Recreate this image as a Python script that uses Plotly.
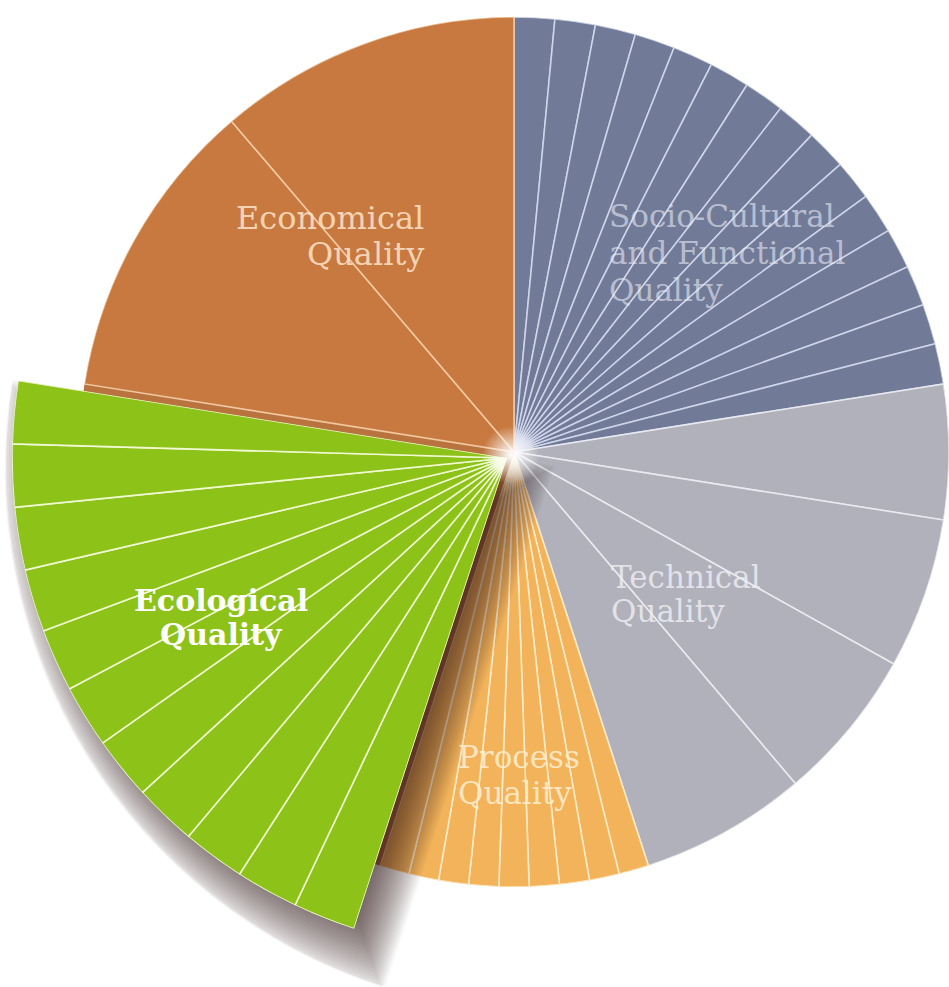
import math
import plotly.graph_objects as go

W, H = 949, 987

# Score categories, their share of the total (%) and the relative weights of
# the sub-criteria each category is divided into.
categories = ["Socio-Cultural and Functional Quality", "Technical Quality",
              "Process Quality", "Ecological Quality", "Economical Quality"]
category_share = [22.5, 22.5, 10.0, 22.5, 22.5]
socio_weights = [1, 1, 1, 1, 1, 1, 1, 1, 1, 1, 1, 1, 1, 1, 1]
technical_weights = [5.0, 5.6, 5.7, 6.2]
process_weights = [1, 1, 1, 1, 1, 1, 1, 1, 1]
ecological_weights = [1, 1, 1, 1, 1, 1, 1, 1, 1, 1, 1]
economical_weights = [1, 1]

label_lines = [["Socio-Cultural", "and Functional", "Quality"],
               ["Technical", "Quality"],
               ["Process", "Quality"],
               ["Ecological", "Quality"],
               ["Economical", "Quality"]]

# ---- styling -------------------------------------------------------------
fill_colors = ["#717a97", "#b0b1ba", "#f3b35b", "#8dc219", "#c77940"]
divider_colors = ["rgba(214,220,240,0.85)", "rgba(236,237,243,0.9)",
                  "rgba(255,238,205,0.9)", "rgba(242,250,214,0.95)",
                  "rgba(244,205,165,0.9)"]
backing_color = "#b9733f"
label_colors = ["rgba(232,235,245,0.62)", "rgba(240,240,246,0.78)",
                "rgba(255,240,210,0.85)", "#ffffff", "rgba(250,224,196,0.9)"]
label_font = "DejaVu Serif"
label_sizes = [31, 31, 31, 30, 32]
# label anchor (pixels): x, first line centre y, line step, anchor side
label_pos = [(607, 216, 37, "left"), (609, 577, 34, "left"),
             (456, 757, 36, "left"), (221, 600, 34, "center"),
             (426, 218, 36, "right")]

main_center, main_radius = (514, 452), 435          # pixels
eco_center, eco_radius = (507, 458), 495            # enlarged ecological fan
glow_center, glow_radius = (511, 455), 30
ECO = categories.index("Ecological Quality")
PROC = categories.index("Process Quality")

# ---- slice geometry from the data -----------------------------------------
weights = [socio_weights, technical_weights, process_weights,
           ecological_weights, economical_weights]
slices = []           # per category: list of (theta centre, width) in degrees
cat_span = []
start = 0.0
for share, wts in zip(category_share, weights):
    span = share / 100.0 * 360.0
    total = sum(wts)
    a = start
    parts = []
    for w in wts:
        width = span * w / total
        parts.append((a + width / 2.0, width))
        a += width
    slices.append(parts)
    cat_span.append((start, start + span))
    start += span


def sector_bbox(s0, s1):
    """Bounding box of a polar sector on the unit circle (plotly's rule)."""
    arc = s1 - s0
    a0 = s0 % 360
    a1 = a0 + arc
    ax0, ay0 = math.cos(math.radians(a0)), math.sin(math.radians(a0))
    ax1, ay1 = math.cos(math.radians(a1)), math.sin(math.radians(a1))
    if (a0 <= 90 <= a1) or (a0 > 90 and a1 >= 450):
        y1 = 1
    elif ay0 <= 0 and ay1 <= 0:
        y1 = 0
    else:
        y1 = max(ay0, ay1)
    if (a0 <= 180 <= a1) or (a0 > 180 and a1 >= 540):
        x0 = -1
    elif ax0 >= 0 and ax1 >= 0:
        x0 = 0
    else:
        x0 = min(ax0, ax1)
    if (a0 <= 270 <= a1) or (a0 > 270 and a1 >= 630):
        y0 = -1
    elif ay0 >= 0 and ay1 >= 0:
        y0 = 0
    else:
        y0 = min(ay0, ay1)
    if a1 >= 360:
        x1 = 1
    elif ax0 <= 0 and ax1 <= 0:
        x1 = 0
    else:
        x1 = max(ax0, ax1)
    return x0, y0, x1, y1


def clamp(v):
    return min(1.0, max(0.0, v))


def polar_layout(center, radius, sector=(0, 360)):
    cx, cy = center
    x0, y0, x1, y1 = sector_bbox(*sector)
    left, right = cx + radius * x0, cx + radius * x1
    top, bottom = cy - radius * y1, cy - radius * y0
    return dict(
        domain=dict(x=[clamp(left / W), clamp(right / W)],
                    y=[clamp(1 - bottom / H), clamp(1 - top / H)]),
        sector=list(sector),
        bgcolor="rgba(0,0,0,0)",
        bargap=0,
        hole=0,
        angularaxis=dict(rotation=90, direction="clockwise", visible=False),
        radialaxis=dict(range=[0, 1], visible=False),
    )


def compass_sector(a_start, a_end):
    # compass angles (clockwise from 12 o'clock) -> counter-clockwise sector
    return (90 - a_end, 90 - a_start)


fig = go.Figure()
layout_polars = {}
e0, e1 = cat_span[ECO]
eco_mid = (e0 + e1) / 2
half = math.radians((e1 - e0) / 2)
# unit vector (screen px, y down) along the ecological bisector
bis = (math.sin(math.radians(eco_mid)), -math.cos(math.radians(eco_mid)))

# main pie: every category; the ecological wedge here is only a plain
# backing for the enlarged fan drawn on top of it
layout_polars["polar"] = polar_layout(main_center, main_radius)
for ci, parts in enumerate(slices):
    if ci == ECO:
        fig.add_trace(go.Barpolar(
            r=[1], theta=[eco_mid], width=[e1 - e0], subplot="polar",
            marker=dict(color=backing_color, line=dict(width=0)),
            hoverinfo="skip", showlegend=False))
        continue
    fig.add_trace(go.Barpolar(
        r=[1] * len(parts), theta=[p[0] for p in parts],
        width=[p[1] for p in parts], subplot="polar",
        marker=dict(color=fill_colors[ci],
                    line=dict(color=divider_colors[ci], width=1.6)),
        hoverinfo="skip", showlegend=False, name=categories[ci]))

# process wedge darkens towards the hub
p0, p1 = cat_span[PROC]
shade_reach = [0.12, 0.2, 0.28, 0.36, 0.44, 0.52]
fig.add_trace(go.Barpolar(
    r=shade_reach, theta=[(p0 + p1) / 2] * len(shade_reach),
    width=[p1 - p0] * len(shade_reach), subplot="polar",
    marker=dict(color="rgba(120,58,28,0.07)", line=dict(width=0)),
    hoverinfo="skip", showlegend=False))

# soft drop shadow of the ecological fan: offset copies, each grown or
# shrunk by s pixels on every side, stacked with low opacity
shadow_offset = (16, 27)
shadow_spread = list(range(-24, 25, 2))
sec = compass_sector(e0, e1)
bx0, by0, bx1, by1 = sector_bbox(*sec)
for k, s in enumerate(shadow_spread):
    sid = "polar%d" % (k + 2)
    back = s / math.sin(half)
    c = (eco_center[0] + shadow_offset[0] - bis[0] * back,
         eco_center[1] + shadow_offset[1] - bis[1] * back)
    r = eco_radius + s + back
    r = min(r, c[0] / -bx0, (H - c[1]) / -by0)     # stay inside the page
    layout_polars[sid] = polar_layout(c, r, sec)
    fig.add_trace(go.Barpolar(
        r=[1], theta=[eco_mid], width=[e1 - e0], subplot=sid,
        marker=dict(color="rgba(40,15,35,0.038)", line=dict(width=0)),
        hoverinfo="skip", showlegend=False))

# ecological fan, drawn larger on top
eco_id = "polar%d" % (len(shadow_spread) + 2)
layout_polars[eco_id] = polar_layout(eco_center, eco_radius, sec)
parts = slices[ECO]
fig.add_trace(go.Barpolar(
    r=[1] * len(parts), theta=[p[0] for p in parts],
    width=[p[1] for p in parts], subplot=eco_id,
    marker=dict(color=fill_colors[ECO],
                line=dict(color=divider_colors[ECO], width=1.6)),
    hoverinfo="skip", showlegend=False, name=categories[ECO]))

# bright glow where all dividers meet (radial gradient: centre colour is
# gradient.color, rim colour is marker.color)
glow_id = "polar%d" % (len(shadow_spread) + 3)
layout_polars[glow_id] = polar_layout(glow_center, glow_radius)
fig.add_trace(go.Scatterpolar(
    r=[0], theta=[0], subplot=glow_id, mode="markers",
    marker=dict(size=2 * glow_radius - 2, color="rgba(255,255,255,0)",
                gradient=dict(type="radial", color="rgba(255,255,255,1)"),
                line=dict(width=0)),
    hoverinfo="skip", showlegend=False))

# category labels
annotations = []
for ci, lines in enumerate(label_lines):
    x, y, step, side = label_pos[ci]
    for li, txt in enumerate(lines):
        annotations.append(dict(
            x=x / W, y=1 - (y + li * step) / H, xref="paper", yref="paper",
            text="<b>%s</b>" % txt if ci == ECO else txt,
            showarrow=False, xanchor=side, yanchor="middle",
            font=dict(family=label_font, size=label_sizes[ci],
                      color=label_colors[ci])))

fig.update_layout(
    width=W, height=H, margin=dict(l=0, r=0, t=0, b=0, pad=0),
    paper_bgcolor="white", plot_bgcolor="white",
    showlegend=False, annotations=annotations, **layout_polars)

fig.write_html("out.html")
